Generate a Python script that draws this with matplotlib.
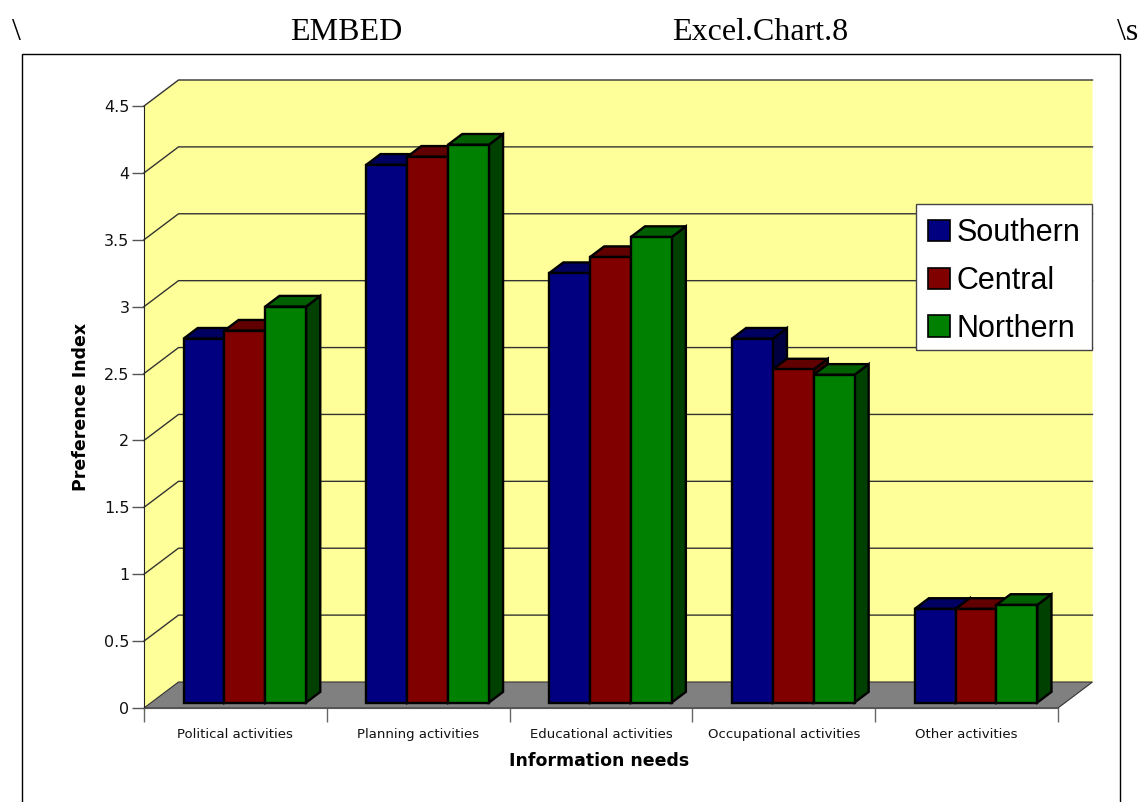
import matplotlib
matplotlib.use('Agg')
import matplotlib.pyplot as plt
from matplotlib.patches import Patch, Rectangle

categories = ['Political activities', 'Planning activities', 'Educational activities',
              'Occupational activities', 'Other activities']
southern = [2.72, 4.02, 3.21, 2.72, 0.70]
central = [2.78, 4.08, 3.33, 2.49, 0.70]
northern = [2.96, 4.17, 3.48, 2.45, 0.73]
series_names = ['Southern', 'Central', 'Northern']
y_ticks = [0, 0.5, 1, 1.5, 2, 2.5, 3, 3.5, 4, 4.5]
y_labels = ['0', '0.5', '1', '1.5', '2', '2.5', '3', '3.5', '4', '4.5']

front = ['#000080', '#800000', '#008000']
top = ['#000060', '#600000', '#006000']
side = ['#000040', '#400000', '#004000']

W, H = 1140, 802
fig = plt.figure(figsize=(W / 100, H / 100), dpi=100)

# page text around the embedded chart
serif = 'Liberation Serif'
fig.text(12 / W, 1 - 32 / H, '\\', family=serif, fontsize=23, va='center')
fig.text(290 / W, 1 - 32 / H, 'EMBED', family=serif, fontsize=23, va='center')
fig.text(672 / W, 1 - 32 / H, 'Excel.Chart.8', family=serif, fontsize=23, va='center')
fig.text(1117 / W, 1 - 32 / H, '\\s', family=serif, fontsize=23, va='center')

# chart frame, runs off the bottom of the page
fig.add_artist(Rectangle((21.5 / W, -0.02), (1120 - 21.5) / W, 1 - 54 / H + 0.02,
                         transform=fig.transFigure, fill=False, ec='black', lw=1))

ax = fig.add_axes([144 / W, 1 - 708 / H, 914 / W, 602 / H])
ax.set_xlim(0, 5)
ax.set_ylim(0, 4.5)
ax.patch.set_alpha(0)

# one unit of depth in data coordinates
DX = 34.5 / (914 / 5)
DY = 26 / (602 / 4.5)

# walls and floor
ax.fill([0, DX, 5 + DX, 5 + DX, DX, 0], [0, DY, DY, 4.5 + DY, 4.5 + DY, 4.5], color='#ffff99', lw=0, clip_on=False, zorder=1)
ax.fill([0, 5, 5 + DX, DX], [0, 0, DY, DY], fc='#808080', ec='#333333', lw=0.8, clip_on=False, zorder=2)

for v in y_ticks[1:]:
    ax.plot([0, DX, 5 + DX], [v, v + DY, v + DY], color='#333333', lw=1, clip_on=False, zorder=2, solid_joinstyle='miter')

# bars
bar_w = 0.2235
d0, d1 = 0.21, 0.62
for i in range(len(categories)):
    vals = [southern[i], central[i], northern[i]]
    for j, v in enumerate(vals):
        x0 = i + 0.512 + (j - 1.5) * bar_w
        x1 = x0 + bar_w
        y0 = d0 * DY
        lx, rx = x0 + d0 * DX, x1 + d0 * DX
        ox, oy = (d1 - d0) * DX, (d1 - d0) * DY
        ax.fill([rx, rx + ox, rx + ox, rx], [y0, y0 + oy, y0 + v + oy, y0 + v],
                fc=side[j], ec='black', lw=1.7, clip_on=False, zorder=3 + j * 0.1, joinstyle='miter')
        ax.fill([lx, rx, rx + ox, lx + ox], [y0 + v, y0 + v, y0 + v + oy, y0 + v + oy],
                fc=top[j], ec='black', lw=1.7, clip_on=False, zorder=3 + j * 0.1, joinstyle='miter')
        ax.bar(lx, v, width=bar_w, bottom=y0, align='edge', color=front[j], ec='black', lw=1.7,
               clip_on=False, zorder=3 + j * 0.1 + 0.05)

# axes
for s in ['top', 'right']:
    ax.spines[s].set_visible(False)
ax.spines['left'].set_color('#222222')
ax.spines['bottom'].set_color('#555555')
ax.spines['left'].set_zorder(5)
ax.spines['bottom'].set_zorder(5)
ax.set_yticks(y_ticks, y_labels, fontsize=11.5, color='#111111')
ax.tick_params(axis='y', length=9, width=1, color='#555555', pad=1.5)
ax.set_xticks(range(6), [''] * 6)
ax.tick_params(axis='x', which='major', length=10, width=1, color='#666666')
ax.set_xticks([i + 0.5 for i in range(5)], categories, minor=True, fontsize=9.5, color='#111111')
ax.tick_params(axis='x', which='minor', length=0, pad=14.5)
ax.set_xlabel('Information needs', fontsize=12.5, fontweight='bold', labelpad=8, x=0.498)
ax.set_ylabel('Preference Index', fontsize=12.5, fontweight='bold', labelpad=10)

# legend box drawn apart so its size can match the reference
box = Rectangle((916 / W, 1 - 350 / H), 176 / W, 146 / H, transform=fig.transFigure,
                fc='white', ec='#444444', lw=1, zorder=9)
fig.add_artist(box)
handles = [Patch(fc=c, ec='black', lw=1.2) for c in front]
leg = fig.legend(handles, series_names, prop={'family': 'Liberation Sans', 'size': 22},
                 loc='upper left', bbox_to_anchor=(916 / W, 1 - 206 / H), borderaxespad=0,
                 frameon=False, handlelength=0.7, handleheight=0.7, handletextpad=0.23,
                 labelspacing=0.58, borderpad=0.4)
leg.set_zorder(10)

fig.savefig('out.png', dpi=100)
